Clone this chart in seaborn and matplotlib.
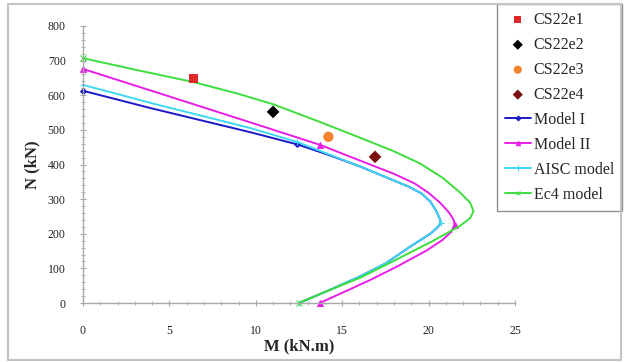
import numpy as np
import matplotlib
matplotlib.use('Agg')
import matplotlib.pyplot as plt
from matplotlib.patches import Rectangle
from matplotlib.ticker import MultipleLocator
import seaborn as sns

sns.set_style('white')
plt.rcParams['font.family'] = ['Liberation Serif', 'DejaVu Serif']

# Test points (M in kN.m, N in kN)
test_names = ['CS22e1', 'CS22e2', 'CS22e3', 'CS22e4']
test_M = [6.4, 11.0, 14.2, 16.9]
test_N = [648, 552, 480, 422]

# Interaction curves
model1_M = [0, 3.9, 9.7, 12.4, 14.2, 16.0, 18.9, 19.6, 20.1, 20.45, 20.65, 20.7, 20.55,
            20.1, 19.0, 17.5, 16.0, 14.2, 12.5]
model1_N = [613, 563, 493, 458, 428, 395, 335, 316, 293, 265, 242, 232, 220,
            200, 165, 114, 76, 36, 0]

model2_M = [0, 3.9, 9.66, 13.7, 16.0, 18.0, 19.2, 20.0, 20.7, 21.2, 21.45, 21.5,
            21.3, 20.8, 19.9, 18.2, 16.6, 15.2, 13.7]
model2_N = [676, 614, 522, 457, 412, 373, 345, 318, 288, 260, 240, 225,
            205, 182, 152, 106, 66, 34, 0]

aisc_M = [0, 3.9, 9.7, 12.4, 14.2, 16.0, 18.9, 19.6, 20.1, 20.45, 20.65, 20.7, 20.55,
          20.1, 19.0, 17.5, 16.0, 14.2, 12.5]
aisc_N = [630, 578, 505, 465, 430, 395, 335, 316, 293, 265, 242, 232, 220,
          200, 165, 114, 76, 36, 0]

ec4_M = [0, 3.0, 6.4, 9.0, 11.0, 13.5, 16.0, 18.0, 19.5, 20.8, 21.8, 22.4, 22.6,
         22.4, 21.8, 21.0, 20.2, 18.0, 16.0, 14.0, 12.5]
ec4_N = [707, 674, 638, 604, 574, 527, 478, 438, 403, 362, 320, 290, 265,
         245, 222, 200, 178, 122, 72, 32, 0]

fig = plt.figure(figsize=(6.24, 3.62), dpi=100)
ax = fig.add_axes([83/624, 59/362, 432/624, 277/362])

# frame around the whole picture
fig.patches.append(Rectangle((8/624, 2/362), 613/624, 356/362, transform=fig.transFigure,
                             fill=False, edgecolor='#c4c4c4', lw=1.5))

pt_colors = ['#e02828', '#000000', '#f5842e', '#7a1010']
pt_markers = ['s', 'D', 'o', 'D']
pt_sizes = [42, 42, 55, 42]
for name, m, n, c, mk, s in zip(test_names, test_M, test_N, pt_colors, pt_markers, pt_sizes):
    sns.scatterplot(x=[m], y=[n], ax=ax, color=c, marker=mk, s=s, edgecolor='none',
                    label=name, zorder=5)

curves = [
    ('Model I', model1_M, model1_N, '#1a1ac8', 'D', 3, [0, 3]),
    ('Model II', model2_M, model2_N, '#e81ee8', '^', 4, [0, 3, 11, 18]),
    ('AISC model', aisc_M, aisc_N, '#3ed8f2', '+', 5, [0, 3, 11, 18]),
    ('Ec4 model', ec4_M, ec4_N, '#3ddd3d', 'x', 4, [0, 20]),
]
for label, mm, nn, c, mk, ms, mev in curves:
    sns.lineplot(x=mm, y=nn, ax=ax, sort=False, estimator=None, color=c, lw=1.4,
                 marker=mk, markersize=ms, markevery=mev, mec=c, mfc=c, label=label,
                 clip_on=False)

ax.set_xlim(0, 25)
ax.set_ylim(0, 800)
ax.xaxis.set_major_locator(MultipleLocator(5))
ax.xaxis.set_minor_locator(MultipleLocator(1))
ax.yaxis.set_major_locator(MultipleLocator(100))
ax.yaxis.set_minor_locator(MultipleLocator(20))
for side in ['top', 'right']:
    ax.spines[side].set_visible(False)
for side in ['left', 'bottom']:
    ax.spines[side].set_color('#a8a8a8')
    ax.spines[side].set_linewidth(1.0)
ax.tick_params(axis='both', which='both', direction='inout', color='#a8a8a8', labelsize=8.5,
               labelcolor='#222222')
ax.tick_params(axis='both', which='major', length=5)
ax.tick_params(axis='both', which='minor', length=3)
ax.tick_params(axis='x', which='major', pad=13, bottom=True)
ax.tick_params(axis='x', which='minor', bottom=True)
ax.tick_params(axis='y', which='major', pad=10, left=True)
ax.tick_params(axis='y', which='minor', left=True)

ax.set_xlabel('M (kN.m)', fontsize=12, fontweight='bold', labelpad=1)
ax.set_ylabel('N (kN)', fontsize=12, fontweight='bold', labelpad=5)

handles, labels = ax.get_legend_handles_labels()
leg = ax.legend(handles, labels, loc='upper left', bbox_to_anchor=(497/624, 1 - 4/362),
                bbox_transform=fig.transFigure, borderaxespad=0, fontsize=11.5,
                frameon=True, fancybox=False, framealpha=1, edgecolor='#909090',
                labelspacing=0.56, handlelength=1.6, handletextpad=0.2, borderpad=0.5,
                markerscale=0.8)
leg.get_frame().set_linewidth(1.0)

fig.savefig('out.png', dpi=100)
